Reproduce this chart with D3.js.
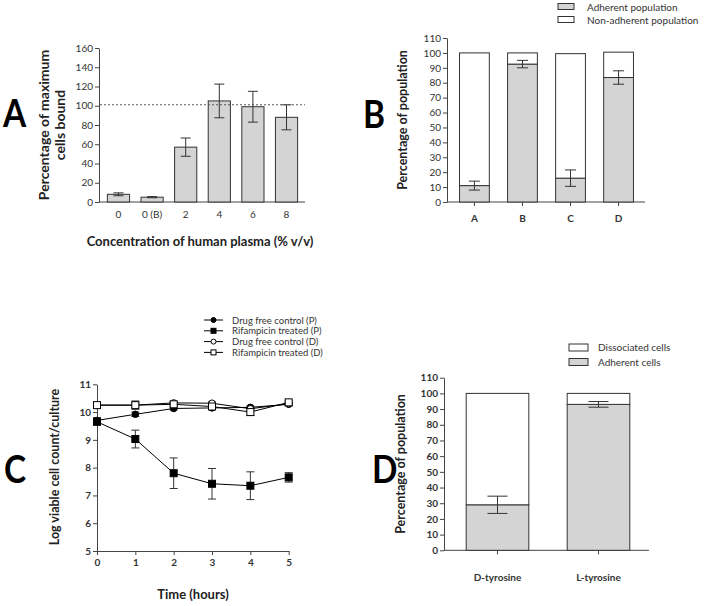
<!DOCTYPE html>
<html>
<head>
<meta charset="utf-8">
<script src="https://cdn.jsdelivr.net/npm/d3@7"></script>
<style>
  body { margin: 0; background: #fff; }
  svg text { font-family: Lato, "Open Sans", sans-serif; }
  .axis path, .axis line { stroke: #444; }
  .axis text { fill: #333; font-size: 10px; font-family: Lato, sans-serif; }
</style>
</head>
<body>
<div id="chart-area"></div>
<script>
// ---- data ----
// Panel A
const concLabels = ["0", "0 (B)", "2", "4", "6", "8"]
const boundMean = [8, 5, 57, 105, 99, 88]
const boundErr = [1.5, 0.6, 9.5, 17.5, 16, 13]
const maxLine = 101

// Panel B
const groupsB = ["A", "B", "C", "D"]
const adherentB = [11, 92.5, 16, 83.5]
const adherentErrB = [3, 2.5, 5.5, 4.5]
const nonAdherentB = [89, 7.5, 83.5, 17]

// Panel C
const hours = [0, 1, 2, 3, 4, 5]
const controlP = [9.7, 9.92, 10.13, 10.15, 10.17, 10.28]
const controlPErr = [0.1, 0.08, 0.05, 0.05, 0.05, 0.05]
const rifP = [9.65, 9.03, 7.8, 7.42, 7.35, 7.65]
const rifPErr = [0.1, 0.32, 0.55, 0.55, 0.5, 0.17]
const controlD = [10.25, 10.25, 10.33, 10.32, 10.12, 10.3]
const controlDErr = [0.05, 0.08, 0.05, 0.05, 0.06, 0.05]
const rifD = [10.25, 10.25, 10.28, 10.2, 10.0, 10.35]
const rifDErr = [0.05, 0.15, 0.05, 0.05, 0.12, 0.06]
const seriesNamesC = ["Drug free control (P)", "Rifampicin treated (P)", "Drug free control (D)", "Rifampicin treated (D)"]

// Panel D
const groupsD = ["D-tyrosine", "L-tyrosine"]
const adherentD = [29, 93]
const adherentErrD = [5.5, 1.8]
const dissociatedD = [71, 7]

const GREY = "#d4d4d4"
const EDGE = "#333"

const svg = d3.select("#chart-area").append("svg")
  .attr("width", 705)
  .attr("height", 606)

function bigLetter(txt, x, y) {
  svg.append("text")
    .attr("transform", `translate(${x},${y}) scale(0.88,1)`)
    .attr("font-size", "38px")
    .attr("font-weight", "bold")
    .attr("fill", "#000")
    .text(txt)
}

function errBar(g, x, y, lo, hi, cap) {
  g.append("line").attr("x1", x).attr("x2", x).attr("y1", y(lo)).attr("y2", y(hi))
    .attr("stroke", EDGE).attr("stroke-width", 1)
  ;[lo, hi].forEach(v => {
    g.append("line").attr("x1", x - cap / 2).attr("x2", x + cap / 2)
      .attr("y1", y(v)).attr("y2", y(v))
      .attr("stroke", EDGE).attr("stroke-width", 1)
  })
}

// rotated axis title, x = baseline of first line
function yTitle(lines, x, y, size, gap) {
  const t = svg.append("text")
    .attr("transform", `translate(${x},${y}) rotate(-90)`)
    .attr("text-anchor", "middle")
    .attr("font-size", size || "12.5px")
    .attr("font-weight", "bold")
    .attr("fill", "#222")
  lines.forEach((l, i) => {
    t.append("tspan").attr("x", 0).attr("y", i * (gap || 15.5)).text(l)
  })
}

// ================= Panel A =================
{
  const x = d3.scaleBand().domain(concLabels).range([100, 305]).paddingInner(0.34).paddingOuter(0.22)
  const y = d3.scaleLinear().domain([0, 160]).range([202, 48])

  svg.append("g").attr("class", "axis")
    .attr("transform", "translate(99,0)")
    .call(d3.axisLeft(y).tickValues(d3.range(0, 161, 20)).tickSize(4).tickSizeOuter(0).tickPadding(2))
  const xAx = svg.append("g").attr("class", "axis")
    .attr("transform", "translate(0,202)")
    .call(d3.axisBottom(x).tickSize(0).tickPadding(9))
  xAx.select(".domain").attr("d", "M99,0H305")

  svg.selectAll(".barA").data(concLabels).enter().append("rect")
    .attr("x", d => x(d)).attr("width", x.bandwidth())
    .attr("y", (d, i) => y(boundMean[i]))
    .attr("height", (d, i) => y(0) - y(boundMean[i]))
    .attr("fill", GREY).attr("stroke", EDGE).attr("stroke-width", 1)

  const eg = svg.append("g")
  concLabels.forEach((d, i) => {
    errBar(eg, x(d) + x.bandwidth() / 2, y, boundMean[i] - boundErr[i], boundMean[i] + boundErr[i], 10)
  })

  svg.append("line")
    .attr("x1", 100).attr("x2", 305).attr("y1", y(maxLine)).attr("y2", y(maxLine))
    .attr("stroke", "#555").attr("stroke-dasharray", "2,2")

  yTitle(["Percentage of maximum", "cells bound"], 49, 125, "14px", 16)
  svg.append("text").attr("x", 200).attr("y", 246).attr("text-anchor", "middle")
    .attr("font-size", "13px").attr("font-weight", "bold").attr("fill", "#222")
    .text("Concentration of human plasma (% v/v)")
  bigLetter("A", 3, 127)
}

// ================= Panel B =================
{
  const x = d3.scaleBand().domain(groupsB).range([448, 645]).paddingInner(0.38).paddingOuter(0.24)
  const y = d3.scaleLinear().domain([0, 110]).range([202, 38])

  svg.append("g").attr("class", "axis")
    .attr("transform", "translate(447,0)")
    .call(d3.axisLeft(y).tickValues(d3.range(0, 111, 10)).tickSize(4).tickSizeOuter(0).tickPadding(2))
  const xAx = svg.append("g").attr("class", "axis")
    .attr("transform", "translate(0,202)")
    .call(d3.axisBottom(x).tickSize(4).tickSizeOuter(0).tickPadding(9))
  xAx.select(".domain").attr("d", "M447,0H645")
  xAx.selectAll("text").attr("font-weight", "bold").attr("font-size", "11px").attr("fill", "#111")

  const stack = d3.stack().keys(["adh", "non"])(groupsB.map((g, i) => ({ g: g, adh: adherentB[i], non: nonAdherentB[i] })))
  stack.forEach((layer, li) => {
    svg.selectAll(".bB" + li).data(layer).enter().append("rect")
      .attr("x", d => x(d.data.g)).attr("width", x.bandwidth())
      .attr("y", d => y(d[1])).attr("height", d => y(d[0]) - y(d[1]))
      .attr("fill", li === 0 ? GREY : "#fff")
      .attr("stroke", EDGE).attr("stroke-width", 1)
  })
  const eg = svg.append("g")
  groupsB.forEach((d, i) => {
    errBar(eg, x(d) + x.bandwidth() / 2, y, adherentB[i] - adherentErrB[i], adherentB[i] + adherentErrB[i], 11)
  })

  // legend
  const lg = svg.append("g")
  ;[["Adherent population", GREY], ["Non-adherent population", "#fff"]].forEach((it, i) => {
    lg.append("rect").attr("x", 558).attr("y", 3.5 + i * 13).attr("width", 16).attr("height", 6)
      .attr("fill", it[1]).attr("stroke", EDGE)
    lg.append("text").attr("x", 587).attr("y", 10.5 + i * 13).attr("font-size", "10px").attr("fill", "#333").text(it[0])
  })

  yTitle(["Percentage of population"], 407, 120)
  bigLetter("B", 363, 128)
}

// ================= Panel C =================
{
  const x = d3.scaleLinear().domain([0, 5]).range([97, 288.7])
  const y = d3.scaleLinear().domain([5, 11]).range([551, 384.3])

  svg.append("g").attr("class", "axis")
    .attr("transform", "translate(97,0)")
    .call(d3.axisLeft(y).tickValues(d3.range(5, 12, 1)).tickFormat(d3.format("d")).tickSize(4).tickSizeOuter(0).tickPadding(2))
    .selectAll("text").attr("font-weight", "bold").attr("fill", "#111")
  svg.append("g").attr("class", "axis")
    .attr("transform", "translate(0,551)")
    .call(d3.axisBottom(x).tickValues(hours).tickFormat(d3.format("d")).tickSize(4).tickSizeOuter(0).tickPadding(4))
    .selectAll("text").attr("font-weight", "bold").attr("fill", "#111")

  const series = [
    { v: controlP, e: controlPErr, shape: "circle", fill: "#000" },
    { v: rifP, e: rifPErr, shape: "square", fill: "#000" },
    { v: controlD, e: controlDErr, shape: "circle", fill: "#fff" },
    { v: rifD, e: rifDErr, shape: "square", fill: "#fff" }
  ]
  const line = d3.line().x((d, i) => x(hours[i])).y(d => y(d))

  function marker(g, shape, fill, cx, cy, s) {
    if (shape === "circle") {
      g.append("circle").attr("cx", cx).attr("cy", cy).attr("r", s / 2)
        .attr("fill", fill).attr("stroke", "#000").attr("stroke-width", 1)
    } else {
      g.append("rect").attr("x", cx - s / 2).attr("y", cy - s / 2).attr("width", s).attr("height", s)
        .attr("fill", fill).attr("stroke", "#000").attr("stroke-width", 1)
    }
  }

  const eg = svg.append("g")
  series.forEach(s => {
    s.v.forEach((v, i) => errBar(eg, x(hours[i]), y, v - s.e[i], v + s.e[i], 8))
  })
  series.forEach(s => {
    svg.append("path").datum(s.v).attr("d", line)
      .attr("fill", "none").attr("stroke", "#000").attr("stroke-width", 1)
  })
  const mg = svg.append("g")
  series.forEach(s => {
    s.v.forEach((v, i) => marker(mg, s.shape, s.fill, x(hours[i]), y(v), s.shape === "circle" ? 6.5 : 7))
  })

  // legend
  const lg = svg.append("g")
  series.forEach((s, i) => {
    const ly = 320 + i * 10.8
    lg.append("line").attr("x1", 204).attr("x2", 223).attr("y1", ly).attr("y2", ly).attr("stroke", "#000")
    marker(lg, s.shape, s.fill, 213.5, ly, 5)
    lg.append("text").attr("x", 232).attr("y", ly + 3.5).attr("font-size", "9.5px").attr("fill", "#333")
      .text(seriesNamesC[i])
  })

  yTitle(["Log viable cell count/culture"], 59, 467)
  svg.append("text").attr("x", 193).attr("y", 599).attr("text-anchor", "middle")
    .attr("font-size", "13px").attr("font-weight", "bold").attr("fill", "#222")
    .text("Time (hours)")
  bigLetter("C", 4, 483)
}

// ================= Panel D =================
{
  const x = d3.scaleBand().domain(groupsD).range([446, 650]).paddingInner(0.38).paddingOuter(0.2)
  const y = d3.scaleLinear().domain([0, 110]).range([550.3, 377.7])

  svg.append("g").attr("class", "axis")
    .attr("transform", "translate(444,0)")
    .call(d3.axisLeft(y).tickValues(d3.range(0, 111, 10)).tickSize(4).tickSizeOuter(0).tickPadding(2))
    .selectAll("text").attr("font-weight", "bold").attr("fill", "#111")
  const xAx = svg.append("g").attr("class", "axis")
    .attr("transform", "translate(0,550.3)")
    .call(d3.axisBottom(x).tickSize(4).tickSizeOuter(0).tickPadding(20))
  xAx.select(".domain").attr("d", "M444,0H649")
  xAx.selectAll("text").attr("font-weight", "bold").attr("font-size", "9px").attr("fill", "#111")

  const stack = d3.stack().keys(["adh", "dis"])(groupsD.map((g, i) => ({ g: g, adh: adherentD[i], dis: dissociatedD[i] })))
  stack.forEach((layer, li) => {
    svg.selectAll(".bD" + li).data(layer).enter().append("rect")
      .attr("x", d => x(d.data.g)).attr("width", x.bandwidth())
      .attr("y", d => y(d[1])).attr("height", d => y(d[0]) - y(d[1]))
      .attr("fill", li === 0 ? GREY : "#fff")
      .attr("stroke", EDGE).attr("stroke-width", 1)
  })
  const eg = svg.append("g")
  groupsD.forEach((d, i) => {
    errBar(eg, x(d) + x.bandwidth() / 2, y, adherentD[i] - adherentErrD[i], adherentD[i] + adherentErrD[i], 20)
  })

  const lg = svg.append("g")
  ;[["Dissociated cells", "#fff"], ["Adherent cells", GREY]].forEach((it, i) => {
    lg.append("rect").attr("x", 569).attr("y", 344 + i * 14.5).attr("width", 19).attr("height", 7)
      .attr("fill", it[1]).attr("stroke", EDGE)
    lg.append("text").attr("x", 598).attr("y", 351 + i * 14.5).attr("font-size", "10px").attr("fill", "#333").text(it[0])
  })

  yTitle(["Percentage of population"], 405, 464)
  bigLetter("D", 372, 483)
}
</script>
</body>
</html>
